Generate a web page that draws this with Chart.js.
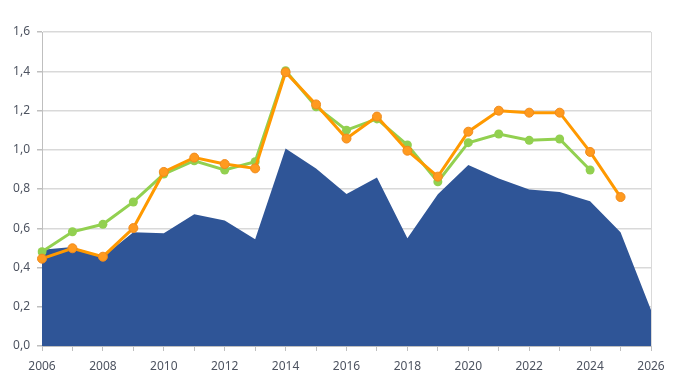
<!DOCTYPE html>
<html lang="en">
  <head>
    <meta charset="UTF-8" />
    <title>Chart</title>
    <style>
      html, body { margin: 0; padding: 0; background: #fff; }
      #wrap { width: 685px; height: 384px; }
    </style>
    <script src="https://cdn.jsdelivr.net/npm/chart.js"></script>
  </head>
  <body>
    <div id="wrap"><canvas id="myChart" width="685" height="384"></canvas></div>
    <script>
      const years = ["2006", "2007", "2008", "2009", "2010", "2011", "2012", "2013", "2014", "2015", "2016",
        "2017", "2018", "2019", "2020", "2021", "2022", "2023", "2024", "2025", "2026"];
      const areaValues = [0.49, 0.505, 0.455, 0.58, 0.575, 0.671, 0.64, 0.544, 1.007, 0.905, 0.775,
        0.858, 0.549, 0.773, 0.922, 0.854, 0.798, 0.785, 0.737, 0.579, 0.183];
      const greenValues = [0.48, 0.582, 0.62, 0.734, 0.876, 0.944, 0.897, 0.939, 1.403, 1.219, 1.10,
        1.157, 1.024, 0.837, 1.036, 1.08, 1.048, 1.055, 0.897, null, null];
      const orangeValues = [0.445, 0.498, 0.455, 0.601, 0.887, 0.96, 0.927, 0.905, 1.395, 1.231, 1.057,
        1.169, 0.995, 0.863, 1.092, 1.199, 1.189, 1.189, 0.989, 0.759, null];

      const ctx = document.getElementById("myChart").getContext("2d");
      Chart.defaults.font.family = "'Noto Sans', sans-serif";
      Chart.defaults.font.size = 12;
      Chart.defaults.color = "#4d5360";

      const myChart = new Chart(ctx, {
        type: "line",
        data: {
          labels: years,
          datasets: [
            {
              label: "orange",
              data: orangeValues,
              order: 1,
              borderColor: "#FF9900",
              borderWidth: 3,
              pointRadius: 4.5,
              pointBackgroundColor: "#FF9A1F",
              pointBorderColor: "#F08A1C",
              pointBorderWidth: 1,
              fill: false,
              spanGaps: false,
            },
            {
              label: "green",
              data: greenValues,
              order: 2,
              borderColor: "#92D050",
              borderWidth: 3,
              pointRadius: 4.5,
              pointBorderWidth: 0,
              pointBackgroundColor: "#92D050",
              pointBorderColor: "#92D050",
              fill: false,
              spanGaps: false,
            },
            {
              label: "area",
              data: areaValues,
              order: 3,
              borderWidth: 0,
              borderColor: "#2F5597",
              backgroundColor: "#2F5597",
              pointRadius: 0,
              fill: "origin",
            },
          ],
        },
        options: {
          responsive: false,
          animation: false,
          layout: { padding: { left: 0, right: 34, top: 32, bottom: 0 } },
          plugins: { legend: { display: false }, tooltip: { enabled: false } },
          scales: {
            x: {
              offset: false,
              grid: {
                drawOnChartArea: true,
                color: (c) => (c.tick && c.tick.label === "2026" ? "#d9d9d9" : "rgba(0,0,0,0)"),
                tickColor: "#bfbfbf",
                tickLength: 5,
                lineWidth: 1,
              },
              border: { color: "#bfbfbf", width: 1 },
              ticks: {
                autoSkip: false,
                maxRotation: 0,
                padding: 8,
                callback: function (v, i) {
                  return i % 2 === 0 ? years[i] : "";
                },
              },
              afterFit: (s) => { s.height = 38; },
            },
            y: {
              min: 0,
              max: 1.6,
              grid: { color: "#d9d9d9", tickColor: "#bfbfbf", tickLength: 5, lineWidth: 1.5 },
              border: { color: "#bfbfbf", width: 1 },
              ticks: {
                stepSize: 0.2,
                padding: 7,
                callback: (v) => v.toFixed(1).replace(".", ","),
              },
              afterFit: (s) => { s.width = 42; },
            },
          },
        },
      });
    </script>
  </body>
</html>
